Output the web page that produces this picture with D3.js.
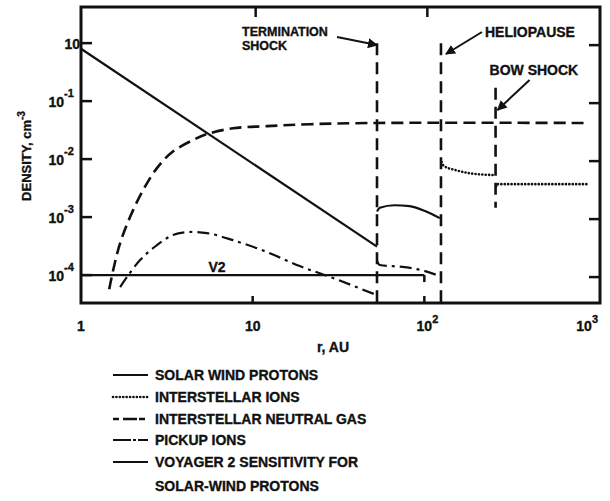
<!DOCTYPE html>
<html>
<head>
<meta charset="utf-8">
<script src="https://cdn.jsdelivr.net/npm/d3@7"></script>
<style>
body { margin: 0; background: #fff; }
text { font-family: "Liberation Sans", Arial, sans-serif; font-weight: bold; fill: #111; stroke: #111; stroke-width: 0.35; }
.frame { fill: none; stroke: #111; stroke-width: 3; }
.tick { stroke: #111; stroke-width: 2.5; }
.curve { fill: none; stroke: #111; }
</style>
</head>
<body>
<svg id="chart" width="610" height="501"></svg>
<script>
(function() {
  "use strict";

  // values: [r (AU), density (cm^-3)]
  var solarWind = [[1, 0.8], [53, 3.1e-4]];
  var solarWindShocked = [[53, 1.25e-3], [55, 1.45e-3], [67, 1.6e-3], [82, 1.55e-3], [101, 1.27e-3], [123, 9.6e-4]];
  var neutralGas = [[1.46, 5.7e-5], [1.54, 1.22e-4], [1.69, 3.56e-4], [1.93, 1e-3], [2.3, 2.92e-3], [2.77, 7.0e-3],
    [3.43, 1.35e-2], [4.49, 2.13e-2], [5.42, 2.7e-2], [7.68, 3.4e-2], [12.1, 3.7e-2], [21.6, 4.0e-2], [53, 4.2e-2], [900, 4.2e-2]];
  var pickupIons = [[1.69, 6.2e-5], [1.85, 9.2e-5], [2.21, 1.82e-4], [2.77, 3.3e-4], [3.43, 4.9e-4], [4.14, 5.5e-4],
    [5.42, 5.3e-4], [7.68, 4.0e-4], [12.1, 2.5e-4], [18.8, 1.43e-4], [29.4, 8.9e-5], [53, 4.5e-5]];
  var pickupShocked = [[53, 1.75e-4], [55, 1.49e-4], [77, 1.37e-4], [101, 1.17e-4], [123, 9.6e-5]];
  var ionsInner = [[126, 8.9e-3], [130, 7.6e-3], [151, 6.5e-3], [184, 5.7e-3], [258, 5.3e-3]];
  var ionsOuter = [[262, 3.4e-3], [264, 3.7e-3], [900, 3.7e-3]];
  var voyager2 = [[1, 1e-4], [100, 1e-4]];

  // boundaries: name, r, top and bottom density
  var boundaryNames = ["TERMINATION", "HELIOPAUSE", "BOW SHOCK"];
  var boundaryR = [53, 125, 260];
  var boundaryTop = [1.0, 1.0, 0.17];
  var boundaryBottom = [3.3e-5, 3.3e-5, 1.45e-3];

  var xTicks = [1, 10, 100, 1000];
  var xTickBase = ["1", "10", "10", "10"];
  var xTickExp = ["", "", "2", "3"];
  var yTicks = [1, 0.1, 0.01, 0.001, 0.0001];
  var yTickBase = ["10", "10", "10", "10", "10"];
  var yTickExp = ["", "-1", "-2", "-3", "-4"];

  var legendLabels = ["SOLAR WIND PROTONS", "INTERSTELLAR IONS", "INTERSTELLAR NEUTRAL GAS", "PICKUP IONS",
    "VOYAGER 2 SENSITIVITY FOR", "SOLAR-WIND PROTONS"];

  var svg = d3.select("#chart");
  var x = d3.scaleLog().domain([1, 1000]).range([81, 596]);
  var y = d3.scaleLog().domain([3.3e-5, 4.2]).range([303, 7]);
  var left = 81, right = 600, top = 7, bottom = 303;

  var styles = {
    solid: { w: 2.2, dash: null, cap: "butt" },
    dotted: { w: 2.6, dash: "0.1 3.3", cap: "round" },
    dashed: { w: 2.6, dash: "12 6", cap: "butt" },
    dashdot: { w: 2.2, dash: "12 5 3 5", cap: "butt" },
    boundary: { w: 2.6, dash: "12 7", cap: "butt" }
  };

  function makeLine(curve) {
    return d3.line()
      .x(function(d) { return x(d[0]); })
      .y(function(d) { return y(d[1]); })
      .curve(curve);
  }
  var smooth = makeLine(d3.curveMonotoneX);
  var round = makeLine(d3.curveCatmullRom.alpha(0.5));

  function drawCurve(data, st, gen) {
    var s = styles[st];
    svg.append("path").attr("class", "curve")
      .attr("d", (gen || smooth)(data))
      .attr("stroke-width", s.w)
      .attr("stroke-dasharray", s.dash)
      .attr("stroke-linecap", s.cap);
  }

  // frame
  svg.append("rect").attr("class", "frame")
    .attr("x", left).attr("y", top).attr("width", right - left).attr("height", bottom - top);

  // ticks (inward)
  [10, 100].forEach(function(v) {
    svg.append("line").attr("class", "tick").attr("x1", x(v)).attr("x2", x(v)).attr("y1", bottom).attr("y2", bottom - 7);
    svg.append("line").attr("class", "tick").attr("x1", x(v) + 3).attr("x2", x(v) + 3).attr("y1", top).attr("y2", top + 10);
  });
  yTicks.forEach(function(v) {
    svg.append("line").attr("class", "tick").attr("x1", left).attr("x2", left + 11).attr("y1", y(v)).attr("y2", y(v));
    svg.append("line").attr("class", "tick").attr("x1", right).attr("x2", right - 11).attr("y1", y(v) + 2).attr("y2", y(v) + 2);
  });

  // tick labels
  xTicks.forEach(function(v, i) {
    var cx = x(v) - (i === 3 ? 12 : 0);
    svg.append("text").attr("x", cx).attr("y", 331).attr("text-anchor", "middle")
      .style("font-size", "14px").text(xTickBase[i]);
    if (xTickExp[i]) {
      svg.append("text").attr("x", cx + 8).attr("y", 323)
        .style("font-size", "11px").text(xTickExp[i]);
    }
  });
  yTicks.forEach(function(v, i) {
    var ex = yTickExp[i] ? 64 : 80;
    svg.append("text").attr("x", ex).attr("y", y(v) + 6).attr("text-anchor", "end")
      .style("font-size", "14px").text(yTickBase[i]);
    if (yTickExp[i]) {
      svg.append("text").attr("x", ex).attr("y", y(v) - 4)
        .style("font-size", "11px").text(yTickExp[i]);
    }
  });

  // axis titles
  var yt = svg.append("text").attr("transform", "translate(31,156) rotate(-90)")
    .attr("text-anchor", "middle").style("font-size", "13px");
  yt.append("tspan").text("DENSITY, cm");
  yt.append("tspan").attr("dy", -6).style("font-size", "10px").text("-3");
  svg.append("text").attr("x", 333).attr("y", 352).attr("text-anchor", "middle")
    .style("font-size", "14px").text("r, AU");

  // boundaries
  boundaryR.forEach(function(r, i) {
    drawCurve([[r, boundaryTop[i]], [r, boundaryBottom[i]]], "boundary");
  });

  // series
  drawCurve(solarWind, "solid");
  drawCurve(solarWindShocked, "solid");
  drawCurve(neutralGas, "dashed", round);
  drawCurve(pickupIons, "dashdot", round);
  drawCurve(pickupShocked, "dashdot");
  drawCurve(ionsInner, "dotted");
  drawCurve(ionsOuter, "dotted");
  drawCurve(voyager2, "solid");
  svg.append("line").attr("class", "tick")
    .attr("x1", x(voyager2[1][0])).attr("x2", x(voyager2[1][0]))
    .attr("y1", y(voyager2[1][1])).attr("y2", y(voyager2[1][1]) + 7);
  svg.append("text").attr("x", 217).attr("y", 272).attr("text-anchor", "middle")
    .style("font-size", "14px").text("V2");

  // annotations
  svg.append("defs").append("marker").attr("id", "arrow")
    .attr("viewBox", "0 0 10 10").attr("refX", 9).attr("refY", 5)
    .attr("markerWidth", 5).attr("markerHeight", 5).attr("orient", "auto")
    .append("path").attr("d", "M0,0L10,5L0,10Z").attr("fill", "#111");

  function arrow(x1, y1, x2, y2) {
    svg.append("line").attr("x1", x1).attr("y1", y1).attr("x2", x2).attr("y2", y2)
      .attr("stroke", "#111").attr("stroke-width", 2).attr("marker-end", "url(#arrow)");
  }

  var tX = x(boundaryR[0]), hX = x(boundaryR[1]), bX = x(boundaryR[2]);
  svg.append("text").attr("x", tX - 135).attr("y", 36).style("font-size", "12.5px").text(boundaryNames[0]);
  svg.append("text").attr("x", tX - 135).attr("y", 50).style("font-size", "12.5px").text("SHOCK");
  arrow(tX - 40, 37, tX, 45);
  svg.append("text").attr("x", hX + 44).attr("y", 37).style("font-size", "14px").text(boundaryNames[1]);
  arrow(hX + 41, 32, hX + 5, 54);
  svg.append("text").attr("x", bX - 6).attr("y", 75).style("font-size", "14px").text(boundaryNames[2]);
  arrow(bX + 34, 80, bX + 2, 110);

  // legend
  var legendStyles = ["solid", "dotted", "dashed", "dashdot", "solid"];
  var rowY = [375, 397, 419, 440, 462, 486];
  legendLabels.forEach(function(lab, i) {
    if (i < legendStyles.length) {
      var s = styles[legendStyles[i]];
      svg.append("line").attr("x1", 113).attr("x2", 148).attr("y1", rowY[i]).attr("y2", rowY[i])
        .attr("stroke", "#111").attr("stroke-width", s.w)
        .attr("stroke-dasharray", legendStyles[i] === "dashed" ? "6 4 14 2" : (legendStyles[i] === "dashdot" ? "18 2 3 2" : s.dash))
        .attr("stroke-linecap", s.cap);
    }
    svg.append("text").attr("x", 155).attr("y", rowY[i] + 5).style("font-size", "14px").text(lab);
  });
})();
</script>
</body>
</html>
